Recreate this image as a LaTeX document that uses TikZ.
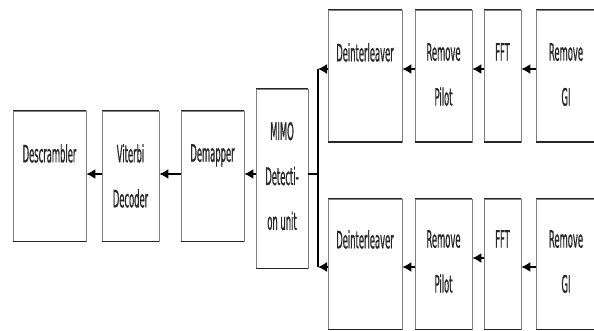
\documentclass[tikz,border=0pt]{standalone}
\usepackage{fontspec}
\setmainfont{DejaVu Sans}[FakeStretch=0.35,FakeBold=0.6]
\usetikzlibrary{arrows.meta,positioning}

\begin{document}
\begin{tikzpicture}[x=1pt,y=-1pt,line width=1.1pt,
  blk/.style={draw=black!50,line width=.8pt,inner sep=0pt,minimum height=130pt},
  edge/.style={draw=black!85,line width=1.8pt},
  lbl/.style={inner sep=0pt,align=center,text=black!85,font=\fontsize{24}{45}\selectfont},
  arr/.style={-{Latex[length=9pt,width=10pt]},line width=1.4pt}]
\useasboundingbox (0,0) rectangle (594,331);
\clip (0,0) rectangle (594,331);
% receiver chain, left part
\node[blk,minimum width=73pt] (desc) at (49.5,176) {};
\node[blk,minimum width=57pt] (vit) at (130.5,176) {};
\node[blk,minimum width=63pt] (demap) at (212.5,176) {};
\node[blk,minimum width=52pt,minimum height=179pt] (mimo) at (282,178.5) {};
% upper branch
\node[blk,minimum width=74pt,minimum height=132pt] (deintA) at (365,76) {};
\node[blk,minimum width=57pt,minimum height=132pt] (pilotA) at (443.5,76) {};
\node[blk,minimum width=37pt,minimum height=132pt] (fftA) at (502.5,76) {};
\node[blk,minimum width=60pt,minimum height=132pt] (giA) at (566,76) {};
% lower branch
\node[blk,minimum width=74pt] (deintB) at (365,264) {};
\node[blk,minimum width=57pt] (pilotB) at (443.5,264) {};
\node[blk,minimum width=37pt] (fftB) at (502.5,264) {};
\node[blk,minimum width=60pt] (giB) at (566,264) {};
\foreach \n in {desc,vit,demap,mimo,deintA,pilotA,fftA,giA,deintB,pilotB,fftB,giB}
  \draw[edge] (\n.north west)--(\n.north east) (\n.south west)--(\n.south east);
% texts
\node[lbl,below=33pt of desc.north] {Descrambler};
\node[lbl,below=33pt of vit.north] {Viterbi\\Decoder};
\node[lbl,below=33pt of demap.north] {Demapper};
\node[lbl,below=33pt of mimo.north] {MIMO\\Detecti-\\on unit};
\node[lbl,below=33pt of deintA.north] {Deinterleaver};
\node[lbl,below=33pt of pilotA.north] {Remove\\Pilot};
\node[lbl,below=33pt of fftA.north] {FFT};
\node[lbl,below=33pt of giA.north] {Remove\\GI};
\node[lbl,below=31pt of deintB.north] {Deinterleaver};
\node[lbl,below=31pt of pilotB.north] {Remove\\Pilot};
\node[lbl,below=31pt of fftB.north] {FFT};
\node[lbl,below=31pt of giB.north] {Remove\\GI};
% connectors
\coordinate (rowM) at (0,174);
\coordinate (rowA) at (0,69);
\coordinate (rowB) at (0,267);
\coordinate (rowBf) at (0,258);
\coordinate (busA) at (318,69);
\coordinate (busB) at (318,267);
\draw[arr] (vit.west |- rowM) -- (desc.east |- rowM);
\draw[arr] (demap.west |- rowM) -- (vit.east |- rowM);
\draw[arr] (mimo.west |- rowM) -- (demap.east |- rowM);
\draw (mimo.east |- rowM) -- (busA |- rowM);
\draw (busA) -- (busB);
\draw[arr] (deintA.west |- rowA) -- (busA);
\draw[arr] (deintB.west |- rowB) -- (busB);
\draw[arr] (pilotA.west |- rowA) -- (deintA.east |- rowA);
\draw[arr] (fftA.west |- rowA) -- (pilotA.east |- rowA);
\draw[arr] (giA.west |- rowA) -- (fftA.east |- rowA);
\draw[arr] (pilotB.west |- rowB) -- (deintB.east |- rowB);
\draw[arr] (fftB.west |- rowBf) -- (pilotB.east |- rowBf);
\draw[arr] (giB.west |- rowB) -- (fftB.east |- rowB);
\end{tikzpicture}
\end{document}
